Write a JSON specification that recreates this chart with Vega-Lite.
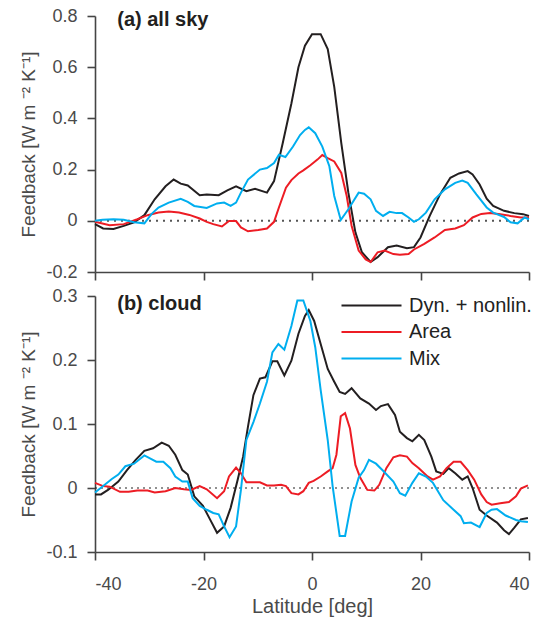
{
  "$schema": "https://vega.github.io/schema/vega-lite/v6.json",
  "padding": {"left": 19, "top": 7, "right": 2, "bottom": 2},
  "config": {
    "font": "Liberation Sans",
    "view": {"stroke": null},
    "axis": {
      "domainColor": "#454545", "domainWidth": 1.6, "tickColor": "#454545", "tickWidth": 1.6, "tickSize": 8,
      "labelColor": "#4a4a4a", "labelFontSize": 18, "labelPadding": 10, "titleColor": "#4a4a4a",
      "titleFontSize": 19, "titleFontWeight": "normal", "grid": false
    },
    "legend": {"labelFontSize": 20, "labelColor": "#222222"}
  },
  "datasets": {
    "sky": [
      {"lat": -40, "v": -0.013, "s": "Dyn. + nonlin."},
      {"lat": -38.5, "v": -0.03, "s": "Dyn. + nonlin."},
      {"lat": -36.6, "v": -0.032, "s": "Dyn. + nonlin."},
      {"lat": -34.7, "v": -0.02, "s": "Dyn. + nonlin."},
      {"lat": -32.8, "v": -0.006, "s": "Dyn. + nonlin."},
      {"lat": -30.9, "v": 0.022, "s": "Dyn. + nonlin."},
      {"lat": -29, "v": 0.084, "s": "Dyn. + nonlin."},
      {"lat": -27, "v": 0.135, "s": "Dyn. + nonlin."},
      {"lat": -25.5, "v": 0.161, "s": "Dyn. + nonlin."},
      {"lat": -24.2, "v": 0.145, "s": "Dyn. + nonlin."},
      {"lat": -22.9, "v": 0.138, "s": "Dyn. + nonlin."},
      {"lat": -20.7, "v": 0.1, "s": "Dyn. + nonlin."},
      {"lat": -19.4, "v": 0.103, "s": "Dyn. + nonlin."},
      {"lat": -17.2, "v": 0.1, "s": "Dyn. + nonlin."},
      {"lat": -15.6, "v": 0.119, "s": "Dyn. + nonlin."},
      {"lat": -14, "v": 0.135, "s": "Dyn. + nonlin."},
      {"lat": -12.1, "v": 0.116, "s": "Dyn. + nonlin."},
      {"lat": -10.5, "v": 0.125, "s": "Dyn. + nonlin."},
      {"lat": -8.3, "v": 0.11, "s": "Dyn. + nonlin."},
      {"lat": -7, "v": 0.155, "s": "Dyn. + nonlin."},
      {"lat": -5.4, "v": 0.303, "s": "Dyn. + nonlin."},
      {"lat": -3.8, "v": 0.458, "s": "Dyn. + nonlin."},
      {"lat": -2.5, "v": 0.6, "s": "Dyn. + nonlin."},
      {"lat": -1.3, "v": 0.684, "s": "Dyn. + nonlin."},
      {"lat": 0, "v": 0.729, "s": "Dyn. + nonlin."},
      {"lat": 1.6, "v": 0.729, "s": "Dyn. + nonlin."},
      {"lat": 2.9, "v": 0.671, "s": "Dyn. + nonlin."},
      {"lat": 4.1, "v": 0.523, "s": "Dyn. + nonlin."},
      {"lat": 5.4, "v": 0.303, "s": "Dyn. + nonlin."},
      {"lat": 6.7, "v": 0.11, "s": "Dyn. + nonlin."},
      {"lat": 8, "v": -0.045, "s": "Dyn. + nonlin."},
      {"lat": 9.2, "v": -0.123, "s": "Dyn. + nonlin."},
      {"lat": 10.8, "v": -0.161, "s": "Dyn. + nonlin."},
      {"lat": 12.1, "v": -0.142, "s": "Dyn. + nonlin."},
      {"lat": 14, "v": -0.103, "s": "Dyn. + nonlin."},
      {"lat": 15.6, "v": -0.097, "s": "Dyn. + nonlin."},
      {"lat": 17.5, "v": -0.107, "s": "Dyn. + nonlin."},
      {"lat": 18.8, "v": -0.103, "s": "Dyn. + nonlin."},
      {"lat": 20, "v": -0.065, "s": "Dyn. + nonlin."},
      {"lat": 21.7, "v": 0.019, "s": "Dyn. + nonlin."},
      {"lat": 23.6, "v": 0.103, "s": "Dyn. + nonlin."},
      {"lat": 25.5, "v": 0.168, "s": "Dyn. + nonlin."},
      {"lat": 27.1, "v": 0.185, "s": "Dyn. + nonlin."},
      {"lat": 28.7, "v": 0.194, "s": "Dyn. + nonlin."},
      {"lat": 29.6, "v": 0.181, "s": "Dyn. + nonlin."},
      {"lat": 30.9, "v": 0.142, "s": "Dyn. + nonlin."},
      {"lat": 32.2, "v": 0.086, "s": "Dyn. + nonlin."},
      {"lat": 33.4, "v": 0.058, "s": "Dyn. + nonlin."},
      {"lat": 35.4, "v": 0.039, "s": "Dyn. + nonlin."},
      {"lat": 37.3, "v": 0.03, "s": "Dyn. + nonlin."},
      {"lat": 38.9, "v": 0.026, "s": "Dyn. + nonlin."},
      {"lat": 40, "v": 0.019, "s": "Dyn. + nonlin."},

      {"lat": -40, "v": -0.004, "s": "Area"},
      {"lat": -37.3, "v": -0.017, "s": "Area"},
      {"lat": -34.7, "v": -0.013, "s": "Area"},
      {"lat": -32.2, "v": 0.006, "s": "Area"},
      {"lat": -30.3, "v": 0.022, "s": "Area"},
      {"lat": -28.3, "v": 0.032, "s": "Area"},
      {"lat": -26.4, "v": 0.036, "s": "Area"},
      {"lat": -24.5, "v": 0.032, "s": "Area"},
      {"lat": -22.6, "v": 0.023, "s": "Area"},
      {"lat": -20.7, "v": 0.009, "s": "Area"},
      {"lat": -19.4, "v": -0.004, "s": "Area"},
      {"lat": -18.2, "v": -0.013, "s": "Area"},
      {"lat": -16.6, "v": -0.022, "s": "Area"},
      {"lat": -15.3, "v": -0.001, "s": "Area"},
      {"lat": -14, "v": -0.001, "s": "Area"},
      {"lat": -13.1, "v": -0.026, "s": "Area"},
      {"lat": -11.8, "v": -0.041, "s": "Area"},
      {"lat": -9.9, "v": -0.036, "s": "Area"},
      {"lat": -8.3, "v": -0.03, "s": "Area"},
      {"lat": -7, "v": -0.004, "s": "Area"},
      {"lat": -6.1, "v": 0.052, "s": "Area"},
      {"lat": -4.8, "v": 0.129, "s": "Area"},
      {"lat": -3.8, "v": 0.159, "s": "Area"},
      {"lat": -2.5, "v": 0.185, "s": "Area"},
      {"lat": -1.6, "v": 0.197, "s": "Area"},
      {"lat": -0.3, "v": 0.217, "s": "Area"},
      {"lat": 1, "v": 0.239, "s": "Area"},
      {"lat": 1.9, "v": 0.257, "s": "Area"},
      {"lat": 2.9, "v": 0.245, "s": "Area"},
      {"lat": 4.1, "v": 0.232, "s": "Area"},
      {"lat": 5.4, "v": 0.187, "s": "Area"},
      {"lat": 6.4, "v": 0.097, "s": "Area"},
      {"lat": 7.3, "v": -0.019, "s": "Area"},
      {"lat": 8.6, "v": -0.116, "s": "Area"},
      {"lat": 9.9, "v": -0.151, "s": "Area"},
      {"lat": 10.8, "v": -0.161, "s": "Area"},
      {"lat": 12.1, "v": -0.123, "s": "Area"},
      {"lat": 13.4, "v": -0.116, "s": "Area"},
      {"lat": 15, "v": -0.13, "s": "Area"},
      {"lat": 16.2, "v": -0.133, "s": "Area"},
      {"lat": 17.8, "v": -0.13, "s": "Area"},
      {"lat": 18.8, "v": -0.112, "s": "Area"},
      {"lat": 20.7, "v": -0.09, "s": "Area"},
      {"lat": 22.6, "v": -0.065, "s": "Area"},
      {"lat": 24.5, "v": -0.036, "s": "Area"},
      {"lat": 26.4, "v": -0.03, "s": "Area"},
      {"lat": 28, "v": -0.017, "s": "Area"},
      {"lat": 29.6, "v": 0.013, "s": "Area"},
      {"lat": 31.2, "v": 0.027, "s": "Area"},
      {"lat": 32.8, "v": 0.03, "s": "Area"},
      {"lat": 34.7, "v": 0.026, "s": "Area"},
      {"lat": 36.6, "v": 0.019, "s": "Area"},
      {"lat": 38.5, "v": 0.013, "s": "Area"},
      {"lat": 40, "v": 0.013, "s": "Area"},

      {"lat": -40, "v": 0, "s": "Mix"},
      {"lat": -38.6, "v": 0.004, "s": "Mix"},
      {"lat": -36.6, "v": 0.006, "s": "Mix"},
      {"lat": -34.7, "v": 0.004, "s": "Mix"},
      {"lat": -32.8, "v": -0.006, "s": "Mix"},
      {"lat": -30.9, "v": -0.01, "s": "Mix"},
      {"lat": -29.6, "v": 0.026, "s": "Mix"},
      {"lat": -28.3, "v": 0.052, "s": "Mix"},
      {"lat": -26.4, "v": 0.071, "s": "Mix"},
      {"lat": -24.2, "v": 0.086, "s": "Mix"},
      {"lat": -22.9, "v": 0.074, "s": "Mix"},
      {"lat": -21.7, "v": 0.058, "s": "Mix"},
      {"lat": -19.4, "v": 0.05, "s": "Mix"},
      {"lat": -17.5, "v": 0.068, "s": "Mix"},
      {"lat": -16.2, "v": 0.071, "s": "Mix"},
      {"lat": -15, "v": 0.058, "s": "Mix"},
      {"lat": -14, "v": 0.071, "s": "Mix"},
      {"lat": -13.1, "v": 0.11, "s": "Mix"},
      {"lat": -11.8, "v": 0.161, "s": "Mix"},
      {"lat": -9.6, "v": 0.2, "s": "Mix"},
      {"lat": -8.3, "v": 0.206, "s": "Mix"},
      {"lat": -7, "v": 0.226, "s": "Mix"},
      {"lat": -6.1, "v": 0.258, "s": "Mix"},
      {"lat": -4.9, "v": 0.249, "s": "Mix"},
      {"lat": -3.5, "v": 0.29, "s": "Mix"},
      {"lat": -2.2, "v": 0.335, "s": "Mix"},
      {"lat": -1.3, "v": 0.355, "s": "Mix"},
      {"lat": -0.6, "v": 0.365, "s": "Mix"},
      {"lat": 0.6, "v": 0.342, "s": "Mix"},
      {"lat": 1.9, "v": 0.29, "s": "Mix"},
      {"lat": 3.2, "v": 0.213, "s": "Mix"},
      {"lat": 4.1, "v": 0.097, "s": "Mix"},
      {"lat": 5.3, "v": 0.003, "s": "Mix"},
      {"lat": 6.7, "v": 0.045, "s": "Mix"},
      {"lat": 8.6, "v": 0.11, "s": "Mix"},
      {"lat": 9.6, "v": 0.106, "s": "Mix"},
      {"lat": 10.8, "v": 0.084, "s": "Mix"},
      {"lat": 11.8, "v": 0.039, "s": "Mix"},
      {"lat": 13.1, "v": 0.019, "s": "Mix"},
      {"lat": 14.3, "v": 0.035, "s": "Mix"},
      {"lat": 15.6, "v": 0.03, "s": "Mix"},
      {"lat": 16.6, "v": 0.03, "s": "Mix"},
      {"lat": 17.8, "v": 0.013, "s": "Mix"},
      {"lat": 18.8, "v": -0.004, "s": "Mix"},
      {"lat": 19.7, "v": 0.006, "s": "Mix"},
      {"lat": 21, "v": 0.032, "s": "Mix"},
      {"lat": 22.6, "v": 0.084, "s": "Mix"},
      {"lat": 24.5, "v": 0.123, "s": "Mix"},
      {"lat": 26.4, "v": 0.148, "s": "Mix"},
      {"lat": 27.7, "v": 0.157, "s": "Mix"},
      {"lat": 28.7, "v": 0.148, "s": "Mix"},
      {"lat": 30.3, "v": 0.103, "s": "Mix"},
      {"lat": 32.2, "v": 0.052, "s": "Mix"},
      {"lat": 33.4, "v": 0.032, "s": "Mix"},
      {"lat": 35.4, "v": 0.015, "s": "Mix"},
      {"lat": 36.6, "v": -0.006, "s": "Mix"},
      {"lat": 37.9, "v": -0.01, "s": "Mix"},
      {"lat": 39.2, "v": 0.013, "s": "Mix"},
      {"lat": 40, "v": 0.006, "s": "Mix"}
    ],
    "cloud": [
      {"lat": -40, "v": -0.01, "s": "Dyn. + nonlin."},
      {"lat": -38.9, "v": -0.01, "s": "Dyn. + nonlin."},
      {"lat": -37.6, "v": -0.003, "s": "Dyn. + nonlin."},
      {"lat": -35.7, "v": 0.01, "s": "Dyn. + nonlin."},
      {"lat": -34.1, "v": 0.028, "s": "Dyn. + nonlin."},
      {"lat": -32.5, "v": 0.044, "s": "Dyn. + nonlin."},
      {"lat": -30.9, "v": 0.058, "s": "Dyn. + nonlin."},
      {"lat": -29.3, "v": 0.062, "s": "Dyn. + nonlin."},
      {"lat": -27.7, "v": 0.071, "s": "Dyn. + nonlin."},
      {"lat": -26.4, "v": 0.066, "s": "Dyn. + nonlin."},
      {"lat": -25.2, "v": 0.052, "s": "Dyn. + nonlin."},
      {"lat": -23.9, "v": 0.028, "s": "Dyn. + nonlin."},
      {"lat": -22.9, "v": 0.021, "s": "Dyn. + nonlin."},
      {"lat": -21.7, "v": -0.013, "s": "Dyn. + nonlin."},
      {"lat": -20.1, "v": -0.028, "s": "Dyn. + nonlin."},
      {"lat": -18.8, "v": -0.049, "s": "Dyn. + nonlin."},
      {"lat": -17.5, "v": -0.07, "s": "Dyn. + nonlin."},
      {"lat": -16.2, "v": -0.06, "s": "Dyn. + nonlin."},
      {"lat": -15, "v": -0.031, "s": "Dyn. + nonlin."},
      {"lat": -13.7, "v": 0.013, "s": "Dyn. + nonlin."},
      {"lat": -12.7, "v": 0.049, "s": "Dyn. + nonlin."},
      {"lat": -11.8, "v": 0.096, "s": "Dyn. + nonlin."},
      {"lat": -10.8, "v": 0.145, "s": "Dyn. + nonlin."},
      {"lat": -9.6, "v": 0.171, "s": "Dyn. + nonlin."},
      {"lat": -8.6, "v": 0.173, "s": "Dyn. + nonlin."},
      {"lat": -7.3, "v": 0.198, "s": "Dyn. + nonlin."},
      {"lat": -6.4, "v": 0.198, "s": "Dyn. + nonlin."},
      {"lat": -5.1, "v": 0.176, "s": "Dyn. + nonlin."},
      {"lat": -3.8, "v": 0.199, "s": "Dyn. + nonlin."},
      {"lat": -2.5, "v": 0.241, "s": "Dyn. + nonlin."},
      {"lat": -1.3, "v": 0.269, "s": "Dyn. + nonlin."},
      {"lat": -0.6, "v": 0.278, "s": "Dyn. + nonlin."},
      {"lat": 0.4, "v": 0.261, "s": "Dyn. + nonlin."},
      {"lat": 1.6, "v": 0.225, "s": "Dyn. + nonlin."},
      {"lat": 2.9, "v": 0.186, "s": "Dyn. + nonlin."},
      {"lat": 4.1, "v": 0.166, "s": "Dyn. + nonlin."},
      {"lat": 5.1, "v": 0.15, "s": "Dyn. + nonlin."},
      {"lat": 6.1, "v": 0.147, "s": "Dyn. + nonlin."},
      {"lat": 7.3, "v": 0.156, "s": "Dyn. + nonlin."},
      {"lat": 8.9, "v": 0.14, "s": "Dyn. + nonlin."},
      {"lat": 10.5, "v": 0.132, "s": "Dyn. + nonlin."},
      {"lat": 11.8, "v": 0.122, "s": "Dyn. + nonlin."},
      {"lat": 12.7, "v": 0.128, "s": "Dyn. + nonlin."},
      {"lat": 14, "v": 0.131, "s": "Dyn. + nonlin."},
      {"lat": 15.3, "v": 0.114, "s": "Dyn. + nonlin."},
      {"lat": 16.2, "v": 0.088, "s": "Dyn. + nonlin."},
      {"lat": 17.5, "v": 0.078, "s": "Dyn. + nonlin."},
      {"lat": 18.5, "v": 0.073, "s": "Dyn. + nonlin."},
      {"lat": 19.7, "v": 0.083, "s": "Dyn. + nonlin."},
      {"lat": 20.7, "v": 0.075, "s": "Dyn. + nonlin."},
      {"lat": 22, "v": 0.049, "s": "Dyn. + nonlin."},
      {"lat": 22.9, "v": 0.026, "s": "Dyn. + nonlin."},
      {"lat": 24.2, "v": 0.022, "s": "Dyn. + nonlin."},
      {"lat": 25.2, "v": 0.031, "s": "Dyn. + nonlin."},
      {"lat": 26.4, "v": 0.023, "s": "Dyn. + nonlin."},
      {"lat": 27.7, "v": 0.013, "s": "Dyn. + nonlin."},
      {"lat": 28.7, "v": 0.018, "s": "Dyn. + nonlin."},
      {"lat": 29.6, "v": 0, "s": "Dyn. + nonlin."},
      {"lat": 30.9, "v": -0.034, "s": "Dyn. + nonlin."},
      {"lat": 32.2, "v": -0.043, "s": "Dyn. + nonlin."},
      {"lat": 34.1, "v": -0.054, "s": "Dyn. + nonlin."},
      {"lat": 35.4, "v": -0.066, "s": "Dyn. + nonlin."},
      {"lat": 36.3, "v": -0.072, "s": "Dyn. + nonlin."},
      {"lat": 37.3, "v": -0.062, "s": "Dyn. + nonlin."},
      {"lat": 38.5, "v": -0.049, "s": "Dyn. + nonlin."},
      {"lat": 39.8, "v": -0.047, "s": "Dyn. + nonlin."},

      {"lat": -40, "v": 0.008, "s": "Area"},
      {"lat": -38.5, "v": 0.003, "s": "Area"},
      {"lat": -37.3, "v": 0.002, "s": "Area"},
      {"lat": -35.4, "v": -0.006, "s": "Area"},
      {"lat": -33.8, "v": -0.006, "s": "Area"},
      {"lat": -32.2, "v": -0.004, "s": "Area"},
      {"lat": -30.3, "v": -0.004, "s": "Area"},
      {"lat": -29, "v": -0.007, "s": "Area"},
      {"lat": -27, "v": -0.005, "s": "Area"},
      {"lat": -25.2, "v": 0, "s": "Area"},
      {"lat": -23.6, "v": -0.002, "s": "Area"},
      {"lat": -22.3, "v": -0.003, "s": "Area"},
      {"lat": -20.7, "v": 0.003, "s": "Area"},
      {"lat": -19.4, "v": -0.002, "s": "Area"},
      {"lat": -17.5, "v": -0.016, "s": "Area"},
      {"lat": -16.2, "v": -0.005, "s": "Area"},
      {"lat": -15.3, "v": 0.018, "s": "Area"},
      {"lat": -14, "v": 0.032, "s": "Area"},
      {"lat": -13.1, "v": 0.023, "s": "Area"},
      {"lat": -12.1, "v": 0.009, "s": "Area"},
      {"lat": -10.8, "v": 0.009, "s": "Area"},
      {"lat": -9.6, "v": 0.009, "s": "Area"},
      {"lat": -8.3, "v": 0.004, "s": "Area"},
      {"lat": -7, "v": 0.004, "s": "Area"},
      {"lat": -5.7, "v": 0.005, "s": "Area"},
      {"lat": -4.8, "v": 0.003, "s": "Area"},
      {"lat": -3.8, "v": -0.008, "s": "Area"},
      {"lat": -2.5, "v": -0.01, "s": "Area"},
      {"lat": -1.6, "v": -0.005, "s": "Area"},
      {"lat": -0.6, "v": 0.008, "s": "Area"},
      {"lat": 0.3, "v": 0.011, "s": "Area"},
      {"lat": 1.6, "v": 0.018, "s": "Area"},
      {"lat": 2.9, "v": 0.026, "s": "Area"},
      {"lat": 3.8, "v": 0.031, "s": "Area"},
      {"lat": 4.5, "v": 0.052, "s": "Area"},
      {"lat": 5.3, "v": 0.112, "s": "Area"},
      {"lat": 6.1, "v": 0.117, "s": "Area"},
      {"lat": 7, "v": 0.093, "s": "Area"},
      {"lat": 8, "v": 0.036, "s": "Area"},
      {"lat": 8.9, "v": 0.016, "s": "Area"},
      {"lat": 10.2, "v": -0.003, "s": "Area"},
      {"lat": 11.5, "v": -0.004, "s": "Area"},
      {"lat": 12.4, "v": 0.005, "s": "Area"},
      {"lat": 13.7, "v": 0.031, "s": "Area"},
      {"lat": 15, "v": 0.048, "s": "Area"},
      {"lat": 16.2, "v": 0.051, "s": "Area"},
      {"lat": 17.5, "v": 0.049, "s": "Area"},
      {"lat": 18.5, "v": 0.039, "s": "Area"},
      {"lat": 19.7, "v": 0.031, "s": "Area"},
      {"lat": 21.3, "v": 0.018, "s": "Area"},
      {"lat": 22.3, "v": 0.013, "s": "Area"},
      {"lat": 23.6, "v": 0.018, "s": "Area"},
      {"lat": 24.8, "v": 0.031, "s": "Area"},
      {"lat": 26.1, "v": 0.041, "s": "Area"},
      {"lat": 27.4, "v": 0.041, "s": "Area"},
      {"lat": 28.7, "v": 0.028, "s": "Area"},
      {"lat": 29.9, "v": 0.013, "s": "Area"},
      {"lat": 31.2, "v": -0.01, "s": "Area"},
      {"lat": 32.2, "v": -0.022, "s": "Area"},
      {"lat": 33.1, "v": -0.026, "s": "Area"},
      {"lat": 34.7, "v": -0.024, "s": "Area"},
      {"lat": 36.3, "v": -0.022, "s": "Area"},
      {"lat": 37.6, "v": -0.013, "s": "Area"},
      {"lat": 38.5, "v": -0.001, "s": "Area"},
      {"lat": 39.8, "v": 0.004, "s": "Area"},

      {"lat": -40, "v": -0.007, "s": "Mix"},
      {"lat": -38.5, "v": 0.003, "s": "Mix"},
      {"lat": -36.9, "v": 0.014, "s": "Mix"},
      {"lat": -35.7, "v": 0.021, "s": "Mix"},
      {"lat": -34.4, "v": 0.034, "s": "Mix"},
      {"lat": -32.8, "v": 0.038, "s": "Mix"},
      {"lat": -30.9, "v": 0.051, "s": "Mix"},
      {"lat": -29.6, "v": 0.045, "s": "Mix"},
      {"lat": -28.7, "v": 0.041, "s": "Mix"},
      {"lat": -27.4, "v": 0.041, "s": "Mix"},
      {"lat": -26.1, "v": 0.031, "s": "Mix"},
      {"lat": -25.2, "v": 0.018, "s": "Mix"},
      {"lat": -23.9, "v": 0.01, "s": "Mix"},
      {"lat": -22.9, "v": 0.01, "s": "Mix"},
      {"lat": -22, "v": -0.016, "s": "Mix"},
      {"lat": -20.7, "v": -0.028, "s": "Mix"},
      {"lat": -19.4, "v": -0.034, "s": "Mix"},
      {"lat": -18.2, "v": -0.039, "s": "Mix"},
      {"lat": -17.2, "v": -0.041, "s": "Mix"},
      {"lat": -16.2, "v": -0.06, "s": "Mix"},
      {"lat": -15.2, "v": -0.077, "s": "Mix"},
      {"lat": -14, "v": -0.06, "s": "Mix"},
      {"lat": -13.1, "v": -0.003, "s": "Mix"},
      {"lat": -12.1, "v": 0.075, "s": "Mix"},
      {"lat": -10.8, "v": 0.103, "s": "Mix"},
      {"lat": -9.6, "v": 0.132, "s": "Mix"},
      {"lat": -8.3, "v": 0.166, "s": "Mix"},
      {"lat": -7.3, "v": 0.212, "s": "Mix"},
      {"lat": -6.2, "v": 0.225, "s": "Mix"},
      {"lat": -5.1, "v": 0.216, "s": "Mix"},
      {"lat": -3.8, "v": 0.253, "s": "Mix"},
      {"lat": -2.7, "v": 0.293, "s": "Mix"},
      {"lat": -1.6, "v": 0.293, "s": "Mix"},
      {"lat": -0.3, "v": 0.261, "s": "Mix"},
      {"lat": 0.6, "v": 0.22, "s": "Mix"},
      {"lat": 1.6, "v": 0.153, "s": "Mix"},
      {"lat": 2.9, "v": 0.075, "s": "Mix"},
      {"lat": 3.8, "v": 0.003, "s": "Mix"},
      {"lat": 5.1, "v": -0.075, "s": "Mix"},
      {"lat": 6.1, "v": -0.075, "s": "Mix"},
      {"lat": 7.3, "v": -0.021, "s": "Mix"},
      {"lat": 8.6, "v": 0.016, "s": "Mix"},
      {"lat": 9.6, "v": 0.028, "s": "Mix"},
      {"lat": 10.5, "v": 0.044, "s": "Mix"},
      {"lat": 11.8, "v": 0.038, "s": "Mix"},
      {"lat": 13.1, "v": 0.027, "s": "Mix"},
      {"lat": 15, "v": 0.01, "s": "Mix"},
      {"lat": 16.2, "v": -0.008, "s": "Mix"},
      {"lat": 17.2, "v": -0.012, "s": "Mix"},
      {"lat": 18.5, "v": 0.008, "s": "Mix"},
      {"lat": 19.7, "v": 0.023, "s": "Mix"},
      {"lat": 21, "v": 0.018, "s": "Mix"},
      {"lat": 22.3, "v": 0.008, "s": "Mix"},
      {"lat": 24.2, "v": -0.019, "s": "Mix"},
      {"lat": 26.1, "v": -0.034, "s": "Mix"},
      {"lat": 27.4, "v": -0.044, "s": "Mix"},
      {"lat": 28, "v": -0.055, "s": "Mix"},
      {"lat": 29.3, "v": -0.054, "s": "Mix"},
      {"lat": 30.9, "v": -0.061, "s": "Mix"},
      {"lat": 32.2, "v": -0.039, "s": "Mix"},
      {"lat": 33.1, "v": -0.034, "s": "Mix"},
      {"lat": 34.1, "v": -0.033, "s": "Mix"},
      {"lat": 35.7, "v": -0.043, "s": "Mix"},
      {"lat": 37.6, "v": -0.05, "s": "Mix"},
      {"lat": 38.5, "v": -0.052, "s": "Mix"},
      {"lat": 39.8, "v": -0.053, "s": "Mix"}
    ]
  },
  "spacing": 6,
  "resolve": {"legend": {"color": "independent"}, "scale": {"y": "independent"}},
  "vconcat": [
    {
      "width": 434,
      "height": 256,
      "layer": [
        {
          "data": {"values": [{"z": 0}]},
          "mark": {"type": "rule", "strokeDash": [2, 5], "strokeWidth": 2, "color": "#555555"},
          "encoding": {"y": {"field": "z", "type": "quantitative", "scale": {"domain": [-0.2, 0.8], "nice": false}}}
        },
        {
          "data": {"name": "sky"},
          "mark": {"type": "line", "strokeWidth": 2},
          "encoding": {
            "x": {"field": "lat", "type": "quantitative", "scale": {"domain": [-40, 40], "nice": false},
              "axis": {"values": [-40, -20, 0, 20, 40], "labels": false, "title": null}},
            "y": {"field": "v", "type": "quantitative", "scale": {"domain": [-0.2, 0.8], "nice": false},
              "axis": {"values": [-0.2, 0, 0.2, 0.4, 0.6, 0.8], "labelExpr": "toString(round(datum.value*10)/10)",
                "title": "Feedback [W m ⁻² K⁻¹]", "titlePadding": 7}},
            "color": {"field": "s", "type": "nominal", "legend": null,
              "scale": {"domain": ["Dyn. + nonlin.", "Area", "Mix"], "range": ["#231f20", "#ed1c24", "#00aeef"]}}
          }
        },
        {
          "data": {"values": [{"t": "(a) all sky"}]},
          "mark": {"type": "text", "align": "left", "baseline": "middle", "fontSize": 20, "fontWeight": "bold", "color": "#231f20"},
          "encoding": {
            "text": {"field": "t"},
            "x": {"datum": -35.9, "type": "quantitative"},
            "y": {"datum": 0.783, "type": "quantitative"}
          }
        }
      ]
    },
    {
      "width": 434,
      "height": 256,
      "layer": [
        {
          "data": {"values": [{"z": 0}]},
          "mark": {"type": "rule", "strokeDash": [2, 4], "strokeWidth": 1.2, "color": "#222222"},
          "encoding": {"y": {"field": "z", "type": "quantitative", "scale": {"domain": [-0.1, 0.3], "nice": false}}}
        },
        {
          "data": {"name": "cloud"},
          "mark": {"type": "line", "strokeWidth": 2},
          "encoding": {
            "x": {"field": "lat", "type": "quantitative", "scale": {"domain": [-40, 40], "nice": false},
              "axis": {"values": [-40, -20, 0, 20, 40], "labelExpr": "toString(datum.value)", "title": "Latitude [deg]", "labelPadding": 15, "titlePadding": 3, "titleFontSize": 20}},
            "y": {"field": "v", "type": "quantitative", "scale": {"domain": [-0.1, 0.3], "nice": false},
              "axis": {"values": [-0.1, 0, 0.1, 0.2, 0.3], "labelExpr": "toString(round(datum.value*10)/10)",
                "title": "Feedback [W m ⁻² K⁻¹]", "titlePadding": 7}},
            "color": {"field": "s", "type": "nominal", "sort": ["Dyn. + nonlin.", "Area", "Mix"],
              "scale": {"domain": ["Dyn. + nonlin.", "Area", "Mix"], "range": ["#231f20", "#ed1c24", "#00aeef"]},
              "legend": {"title": null, "orient": "none", "legendX": 265, "legendY": -2, "symbolType": "M-3,0H3",
                "symbolSize": 400, "symbolStrokeWidth": 2.2, "labelFontSize": 20, "rowPadding": 4.5, "labelOffset": 26}}
          }
        },
        {
          "data": {"values": [{"t": "(b) cloud"}]},
          "mark": {"type": "text", "align": "left", "baseline": "middle", "fontSize": 20, "fontWeight": "bold", "color": "#231f20"},
          "encoding": {
            "text": {"field": "t"},
            "x": {"datum": -35.9, "type": "quantitative"},
            "y": {"datum": 0.288, "type": "quantitative"}
          }
        }
      ]
    }
  ]
}
